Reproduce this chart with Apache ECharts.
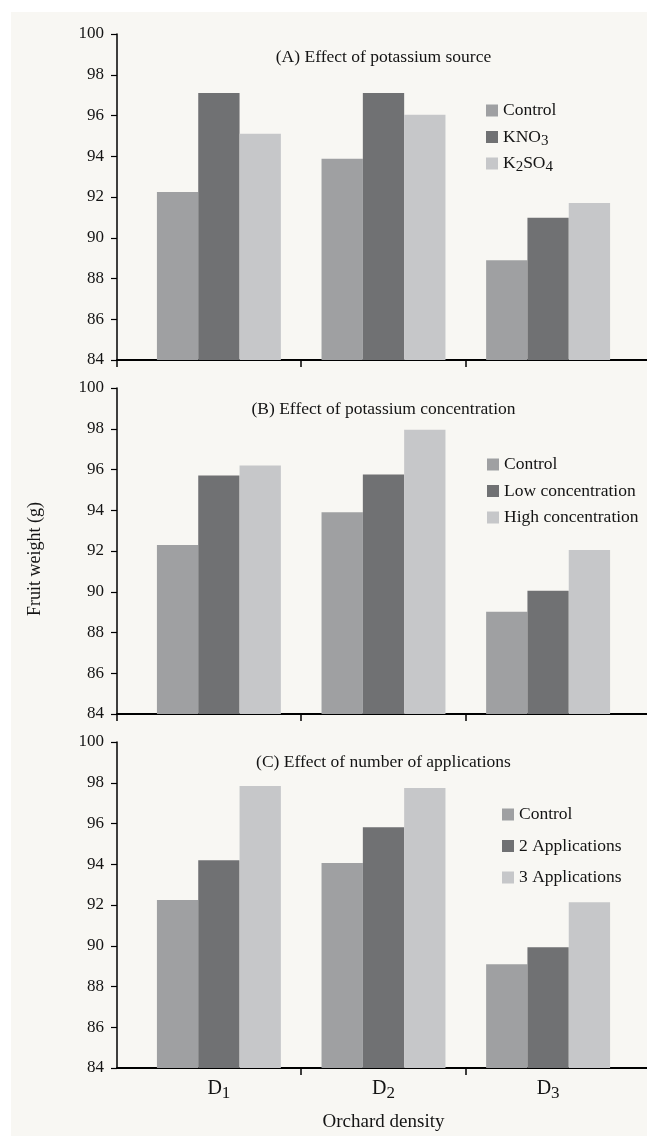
<!DOCTYPE html>
<html>
<head>
<meta charset="utf-8">
<script src="https://cdn.jsdelivr.net/npm/echarts@6/dist/echarts.min.js"></script>
<style>
html, body { margin: 0; padding: 0; background: #ffffff; }
#bg { position: absolute; left: 11px; top: 12px; right: 0; bottom: 0; background: #f8f7f3; }
#chart { position: absolute; left: 0; top: 0; width: 647px; height: 1136px; }
</style>
</head>
<body>
<div id="bg"></div>
<div id="chart"></div>
<script>
// ---------------- data ----------------
const categories = ['D1', 'D2', 'D3'];
const yMin = 84;
const yMax = 100;
const yInterval = 2;

const panelTitles = [
  '(A) Effect of potassium source',
  '(B) Effect of potassium concentration',
  '(C) Effect of number of applications'
];

const namesA = ['Control', 'KNO3', 'K2SO4'];
const controlA = [92.25, 93.88, 88.90];
const kno3A    = [97.10, 97.10, 90.98];
const k2so4A   = [95.10, 96.04, 91.70];

const namesB = ['Control', 'Low concentration', 'High concentration'];
const controlB = [92.30, 93.90, 89.02];
const lowB     = [95.70, 95.75, 90.05];
const highB    = [96.20, 97.95, 92.05];

const namesC = ['Control', '2 Applications', '3 Applications'];
const controlC = [92.24, 94.06, 89.09];
const app2C    = [94.20, 95.82, 89.93];
const app3C    = [97.84, 97.74, 92.14];

const yAxisName = 'Fruit weight (g)';
const xAxisName = 'Orchard density';

// ---------------- layout / style ----------------
const FONT = '"Liberation Serif", "Times New Roman", serif';
const TXT = '#141414';
const COLORS = ['#9fa0a2', '#707173', '#c6c7c9'];
const W = 647;
const FRAME_LEFT = 117;
const BAR_LEFT = 136.6;
const BAND = 164.6;
const PANEL_TOPS = [34, 388, 742];
const PANEL_H = 326;
const frameXMin = (FRAME_LEFT - BAR_LEFT) / BAND;
const frameXMax = (W - BAR_LEFT) / BAND;

const panels = [
  { names: namesA, values: [controlA, kno3A, k2so4A], legendLeft: 486, legendTop: 99, legendGap: 3.5, subs: true, yStub: true, titleY: 57 },
  { names: namesB, values: [controlB, lowB, highB], legendLeft: 487, legendTop: 453, legendGap: 3.5, subs: false, yStub: true, titleY: 409 },
  { names: namesC, values: [controlC, app2C, app3C], legendLeft: 502, legendTop: 803, legendGap: 8.5, subs: false, yStub: false, titleY: 762.5 }
];

const grids = [], xAxes = [], yAxes = [], series = [], legends = [], graphics = [];

panels.forEach(function (p, i) {
  const top = PANEL_TOPS[i];
  // frame grid: visible y axis and full-width x axis line
  grids.push({ left: FRAME_LEFT, right: 0, top: top, height: PANEL_H, containLabel: false, outerBoundsMode: 'none' });
  // bar grid: categories
  grids.push({ left: BAR_LEFT, width: BAND * categories.length, top: top, height: PANEL_H, containLabel: false, outerBoundsMode: 'none' });

  xAxes.push({
    type: 'value', gridIndex: 2 * i, min: frameXMin, max: frameXMax,
    axisLine: { show: true, onZero: false, lineStyle: { color: '#000', width: 2 } },
    axisTick: { show: true, inside: false, length: 7, customValues: p.yStub ? [frameXMin, 1, 2] : [1, 2], lineStyle: { color: '#000', width: 1.5 } },
    axisLabel: { show: false },
    splitLine: { show: false }
  });
  xAxes.push({
    type: 'category', gridIndex: 2 * i + 1, data: categories,
    axisLine: { show: false },
    axisTick: { show: false },
    axisLabel: {
      show: i === 2,
      margin: 11,
      fontFamily: FONT, fontSize: 20, lineHeight: 20, color: TXT,
      formatter: function (v) { return v.replace(/(\d+)/, '{sub|$1}'); },
      rich: { sub: { fontFamily: FONT, fontSize: 17, lineHeight: 20, color: TXT, padding: [9, 0, 0, 0] } }
    },
    name: i === 2 ? xAxisName : '',
    nameLocation: 'middle',
    nameGap: 45,
    nameTextStyle: { fontFamily: FONT, fontSize: 19, color: TXT }
  });

  yAxes.push({
    type: 'value', gridIndex: 2 * i, min: yMin, max: yMax, interval: yInterval,
    axisLine: { show: true, onZero: false, lineStyle: { color: '#000', width: 1.5 } },
    axisTick: { show: true, inside: false, length: 6, lineStyle: { color: '#000', width: 1.2 } },
    axisLabel: { fontFamily: FONT, fontSize: 17, color: TXT, margin: 13 },
    splitLine: { show: false }
  });
  yAxes.push({
    type: 'value', gridIndex: 2 * i + 1, min: yMin, max: yMax, interval: yInterval, show: false
  });

  p.names.forEach(function (name, k) {
    series.push({
      type: 'bar', name: name,
      xAxisIndex: 2 * i + 1, yAxisIndex: 2 * i + 1,
      data: p.values[k],
      barGap: '0%', barCategoryGap: '24.7%',
      itemStyle: { color: COLORS[k] },
      emphasis: { disabled: true },
      animation: false
    });
  });

  legends.push({
    orient: 'vertical', left: p.legendLeft, top: p.legendTop, padding: 0,
    itemWidth: 12, itemHeight: 12, itemGap: p.legendGap,
    icon: 'rect', selectedMode: false,
    data: p.names,
    formatter: (function (subs) {
      return function (name) {
        const s = subs ? name.replace(/(\d)/g, '{sub|$1}') : name;
        return s + '{sub| }';
      };
    })(p.subs),
    textStyle: {
      fontFamily: FONT, fontSize: 17.5, lineHeight: 18, color: TXT,
      rich: { sub: { fontFamily: FONT, fontSize: 15, lineHeight: 18, color: TXT, padding: [8, 0, 0, 0] } }
    }
  });

  graphics.push({
    type: 'text', x: BAR_LEFT + BAND * categories.length / 2, y: p.titleY,
    style: { text: panelTitles[i], font: '17.5px ' + FONT, fill: TXT, textAlign: 'center', textVerticalAlign: 'middle' }
  });
});

graphics.push({
  type: 'text', x: 35, y: 559, rotation: Math.PI / 2,
  style: { text: yAxisName, font: '18px ' + FONT, fill: TXT, textAlign: 'center', textVerticalAlign: 'middle' }
});

const chart = echarts.init(document.getElementById('chart'), null, { renderer: 'canvas' });
chart.setOption({
  backgroundColor: 'transparent',
  animation: false,
  grid: grids,
  xAxis: xAxes,
  yAxis: yAxes,
  legend: legends,
  series: series,
  graphic: graphics
});
</script>
</body>
</html>
